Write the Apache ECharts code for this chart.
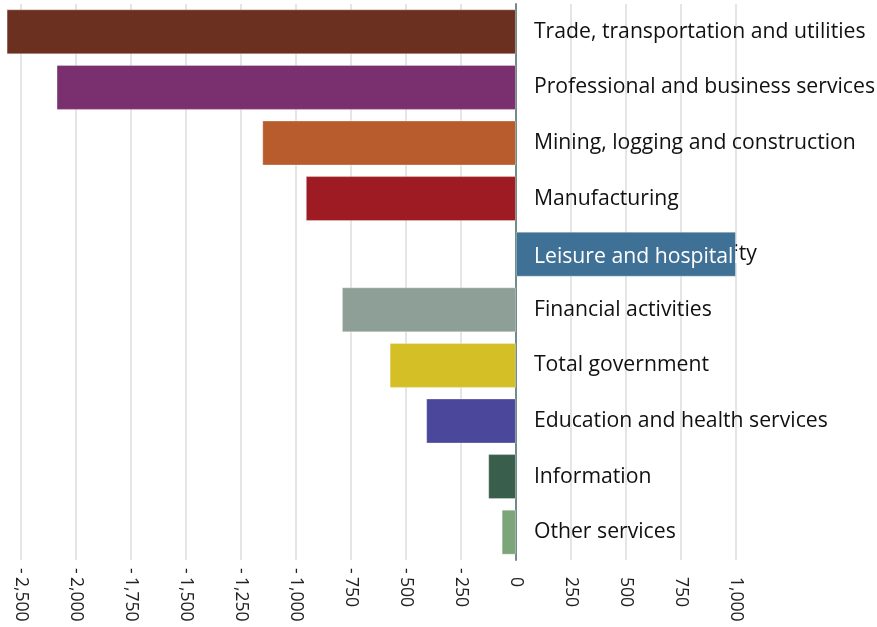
<!DOCTYPE html>
<html>
<head>
<meta charset="utf-8">
<script src="https://cdn.jsdelivr.net/npm/echarts@6/dist/echarts.min.js"></script>
<style>
  html, body { margin: 0; padding: 0; background: #ffffff; }
  #chart { width: 877px; height: 627px; }
</style>
</head>
<body>
<div id="chart"></div>
<script>
const categories = [
  'Trade, transportation and utilities',
  'Professional and business services',
  'Mining, logging and construction',
  'Manufacturing',
  'Leisure and hospitality',
  'Financial activities',
  'Total government',
  'Education and health services',
  'Information',
  'Other services'
];
const values = [-2315, -2088, -1153, -955, 1000, -791, -574, -408, -126, -65];
const barColors = ['#6c3020', '#7a306e', '#b95c2d', '#9e1b23', '#3f7096', '#8e9f97', '#d4bf27', '#4b479b', '#3a5e4c', '#7da57a'];
const tickValues = [-2250, -2000, -1750, -1500, -1250, -1000, -750, -500, -250, 0, 250, 500, 750, 1000];
const tickLabels = ['-2,500', '-2,000', '-1,750', '-1,500', '-1,250', '-1,000', '-750', '-500', '-250', '0', '250', '500', '750', '1,000'];

const FONT = '"Open Sans", sans-serif';
const LABEL_SIZE = 21.2;
const X_MIN = -2345, X_MAX = 1641;
const chart = echarts.init(document.getElementById('chart'), null, { renderer: 'canvas' });

const data = values.map((v, i) => {
  const item = { value: v, itemStyle: { color: barColors[i] } };
  if (v > 0) {
    item.label = {
      show: true,
      position: 'insideLeft',
      distance: 18,
      offset: [0, 2.5],
      color: '#ffffff',
      fontFamily: FONT,
      fontSize: LABEL_SIZE,
      overflow: 'truncate',
      ellipsis: '',
      width: 206,
      formatter: () => categories[i]
    };
  }
  return item;
});

const negTicks = tickValues.filter((v, i) => tickLabels[i].charAt(0) === '-');

function labelFor(val) {
  const idx = tickValues.indexOf(val);
  return idx >= 0 ? tickLabels[idx] : '';
}

const baseX = {
  type: 'value',
  min: X_MIN,
  max: X_MAX,
  position: 'bottom',
  axisLine: { show: false },
};

const option = {
  animation: false,
  backgroundColor: '#ffffff',
  grid: { left: 0, right: 0, top: 4, bottom: 67, containLabel: false, outerBoundsMode: 'none' },
  xAxis: [
    Object.assign({}, baseX, {
      axisTick: { show: false, customValues: tickValues },
      splitLine: { show: true, lineStyle: { color: '#dcdcdc', width: 1.5 } },
      axisLabel: {
        customValues: tickValues,
        rotate: -90,
        margin: 17,
        fontFamily: FONT,
        fontSize: 17.5,
        color: '#222222',
        formatter: (val) => labelFor(val).replace(/^-/, '')
      }
    }),
    Object.assign({}, baseX, {
      axisTick: { show: false, customValues: negTicks },
      splitLine: { show: false },
      axisLabel: {
        customValues: negTicks,
        rotate: -90,
        margin: 8,
        fontFamily: FONT,
        fontSize: 17.5,
        color: '#222222',
        formatter: (val) => labelFor(val).charAt(0) === '-' ? '-' : ''
      }
    })
  ],
  yAxis: {
    type: 'category',
    inverse: true,
    data: categories,
    position: 'left',
    offset: 0,
    axisLine: { show: true, onZero: false, lineStyle: { color: '#6f8d86', width: 2 } },
    axisTick: { show: false },
    splitLine: { show: false },
    axisLabel: {
      inside: true,
      interval: 0,
      margin: 18,
      padding: [5, 0, 0, 0],
      fontFamily: FONT,
      fontSize: LABEL_SIZE,
      color: '#111111'
    }
  },
  series: [{
    type: 'bar',
    xAxisIndex: 0,
    data: data,
    barWidth: 45,
    itemStyle: { borderColor: 'rgba(255,255,255,0.3)', borderWidth: 1 },
    z: 3
  }]
};
chart.setOption(option);
const zeroX = chart.convertToPixel({ xAxisIndex: 0 }, 0);
const gridLeft = chart.convertToPixel({ xAxisIndex: 0 }, X_MIN);
chart.setOption({ yAxis: { offset: -(zeroX - gridLeft) } });
</script>
</body>
</html>
